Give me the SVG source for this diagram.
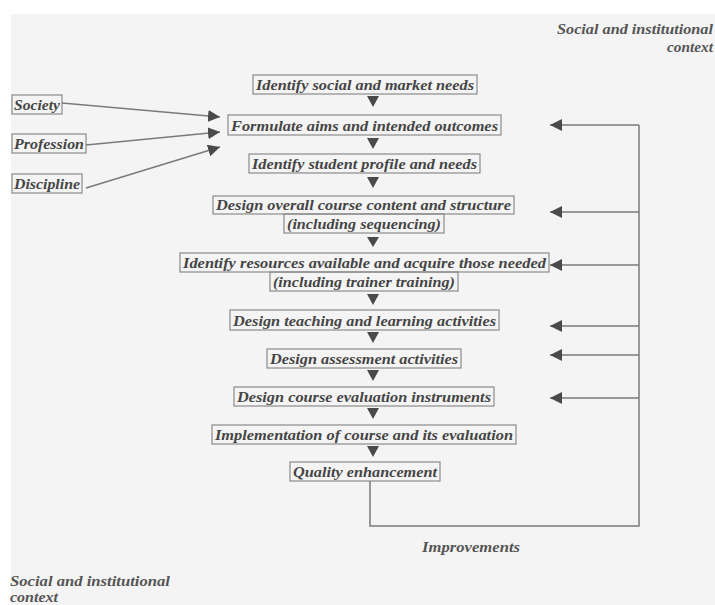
<svg xmlns="http://www.w3.org/2000/svg" width="715" height="605" viewBox="0 0 715 605">
<style>
.bx{fill:none;stroke:#8a8a8a;stroke-width:1.2}
.t{font-family:"Liberation Serif",serif;font-weight:bold;font-style:italic;font-size:15.5px;fill:#454545;text-anchor:middle}
.l{font-family:"Liberation Serif",serif;font-weight:bold;font-style:italic;font-size:15.5px;fill:#555}
.ln{fill:none;stroke:#7a7a7a;stroke-width:1.5}
.tri{fill:#4a4a4a}
</style>
<defs>
<marker id="ah" viewBox="0 0 12 12" refX="12" refY="6" markerWidth="12" markerHeight="12" markerUnits="userSpaceOnUse" orient="auto">
<path d="M0,0 L12,6 L0,12 Z" fill="#4a4a4a"/>
</marker>
</defs>
<rect x="0" y="0" width="715" height="605" fill="#ffffff"/>
<rect x="11" y="14" width="704" height="591" fill="#f4f4f4"/>
<text class="l" x="557" y="34" textLength="156" lengthAdjust="spacingAndGlyphs">Social and institutional</text>
<text class="l" x="667" y="52" textLength="46" lengthAdjust="spacingAndGlyphs">context</text>
<g id="n1"><rect class="bx" x="253" y="75" width="224" height="19"/><text class="t" x="365" y="90" textLength="218" lengthAdjust="spacingAndGlyphs">Identify social and market needs</text></g>
<g id="n2"><rect class="bx" x="228" y="115" width="273" height="20"/><text class="t" x="364.5" y="130.5" textLength="267" lengthAdjust="spacingAndGlyphs">Formulate aims and intended outcomes</text></g>
<g id="n3"><rect class="bx" x="249" y="154" width="231" height="19"/><text class="t" x="364.5" y="169" textLength="225" lengthAdjust="spacingAndGlyphs">Identify student profile and needs</text></g>
<g id="n4"><rect class="bx" x="213" y="196" width="301" height="18"/><text class="t" x="363.5" y="210" textLength="295" lengthAdjust="spacingAndGlyphs">Design overall course content and structure</text><rect class="bx" x="284" y="214" width="160" height="19"/><text class="t" x="364" y="229" textLength="154" lengthAdjust="spacingAndGlyphs">(including sequencing)</text></g>
<g id="n5"><rect class="bx" x="180" y="253" width="369" height="19"/><text class="t" x="364.5" y="268" textLength="363" lengthAdjust="spacingAndGlyphs">Identify resources available and acquire those needed</text><rect class="bx" x="270" y="272" width="188" height="19"/><text class="t" x="364" y="287" textLength="182" lengthAdjust="spacingAndGlyphs">(including trainer training)</text></g>
<g id="n6"><rect class="bx" x="230" y="310" width="269" height="20"/><text class="t" x="364.5" y="325.5" textLength="263" lengthAdjust="spacingAndGlyphs">Design teaching and learning activities</text></g>
<g id="n7"><rect class="bx" x="267" y="349" width="194" height="19"/><text class="t" x="364" y="364" textLength="188" lengthAdjust="spacingAndGlyphs">Design assessment activities</text></g>
<g id="n8"><rect class="bx" x="234" y="387" width="260" height="19"/><text class="t" x="364" y="402" textLength="254" lengthAdjust="spacingAndGlyphs">Design course evaluation instruments</text></g>
<g id="n9"><rect class="bx" x="212" y="425" width="304" height="19"/><text class="t" x="364" y="440" textLength="298" lengthAdjust="spacingAndGlyphs">Implementation of course and its evaluation</text></g>
<g id="n10"><rect class="bx" x="290" y="462" width="150" height="19"/><text class="t" x="365" y="477" textLength="144" lengthAdjust="spacingAndGlyphs">Quality enhancement</text></g>
<g id="society"><rect class="bx" x="12" y="95" width="50" height="19"/><text class="t" x="37" y="109.5" textLength="46" lengthAdjust="spacingAndGlyphs">Society</text></g>
<g id="profession"><rect class="bx" x="12" y="134" width="74" height="19"/><text class="t" x="49" y="148.5" textLength="70" lengthAdjust="spacingAndGlyphs">Profession</text></g>
<g id="discipline"><rect class="bx" x="12" y="174" width="70" height="19"/><text class="t" x="47" y="188.5" textLength="66" lengthAdjust="spacingAndGlyphs">Discipline</text></g>
<g id="connectors">
<path class="tri" d="M367,96 L379,96 L373,107 Z"/>
<path class="tri" d="M367,138 L379,138 L373,149 Z"/>
<path class="tri" d="M367,177 L379,177 L373,188 Z"/>
<path class="tri" d="M367,237 L379,237 L373,247 Z"/>
<path class="tri" d="M367,294 L379,294 L373,305 Z"/>
<path class="tri" d="M367,332 L379,332 L373,343 Z"/>
<path class="tri" d="M367,370 L379,370 L373,381 Z"/>
<path class="tri" d="M367,408 L379,408 L373,419 Z"/>
<path class="tri" d="M367,446 L379,446 L373,457 Z"/>
<line class="ln" x1="62" y1="103" x2="220" y2="117" marker-end="url(#ah)"/>
<line class="ln" x1="86" y1="145" x2="220" y2="132" marker-end="url(#ah)"/>
<line class="ln" x1="86" y1="188" x2="220" y2="147" marker-end="url(#ah)"/>
<path class="ln" d="M370,481 V526 H639 V125"/>
<line class="ln" x1="639" y1="125" x2="550" y2="125" marker-end="url(#ah)"/>
<line class="ln" x1="639" y1="212" x2="550" y2="212" marker-end="url(#ah)"/>
<line class="ln" x1="639" y1="265" x2="550" y2="265" marker-end="url(#ah)"/>
<line class="ln" x1="639" y1="326" x2="550" y2="326" marker-end="url(#ah)"/>
<line class="ln" x1="639" y1="355" x2="550" y2="355" marker-end="url(#ah)"/>
<line class="ln" x1="639" y1="398" x2="550" y2="398" marker-end="url(#ah)"/>
</g>
<text class="l" x="422" y="552" textLength="98" lengthAdjust="spacingAndGlyphs">Improvements</text>
<text class="l" x="10" y="586" textLength="160" lengthAdjust="spacingAndGlyphs">Social and institutional</text>
<text class="l" x="10" y="602" textLength="48" lengthAdjust="spacingAndGlyphs">context</text>
</svg>
